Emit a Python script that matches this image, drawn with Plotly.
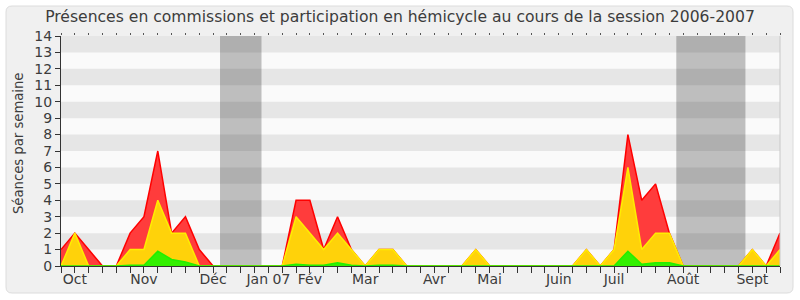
import plotly.graph_objects as go

weeks = list(range(53))
hemicycle = [1, 2, 1, 0, 0, 2, 3, 7, 2, 3, 1, 0, 0, 0, 0, 0, 0, 4, 4, 1, 3, 1, 0, 1, 1, 0,
             0, 0, 0, 0, 1, 0, 0, 0, 0, 0, 0, 0, 1, 0, 1, 8, 4, 5, 2, 0, 0, 0, 0, 0, 1, 0, 2]
commission = [0, 2, 0, 0, 0, 1, 1, 4, 2, 2, 0, 0, 0, 0, 0, 0, 0, 3, 2, 1, 2, 1, 0, 1, 1, 0,
              0, 0, 0, 0, 1, 0, 0, 0, 0, 0, 0, 0, 1, 0, 1, 6, 1, 2, 2, 0, 0, 0, 0, 0, 1, 0, 1]
interventions = [0, 0, 0, 0, 0, 0.05, 0.05, 0.9, 0.4, 0.25, 0, 0, 0, 0, 0, 0, 0, 0.1, 0.05, 0.05,
                 0.2, 0.05, 0, 0.05, 0.05, 0, 0, 0, 0, 0, 0, 0, 0, 0, 0, 0, 0, 0, 0, 0, 0, 0.9,
                 0.1, 0.2, 0.2, 0, 0, 0, 0, 0, 0, 0, 0]
month_pos = [1, 6, 11, 15, 18, 22, 27, 31, 36, 40, 45, 50]
month_lbl = ["Oct", "Nov", "Déc", "Jan 07", "Fév", "Mar", "Avr", "Mai", "Juin", "Juil", "Août", "Sept"]
vacations = [(11.5, 14.5), (44.5, 49.5)]
y_max = 14

W, H = 800, 300
L, R, T, B = 61, 20, 36, 34
FONT = "DejaVu Sans"
TXT = "#3c3c3c"

fig = go.Figure()
fig.add_trace(go.Scatter(x=weeks, y=hemicycle, mode="lines", fill="tozeroy",
                         line=dict(color="#ff0000", width=1.5), fillcolor="#ff3c3c",
                         hoverinfo="skip", showlegend=False))
fig.add_trace(go.Scatter(x=weeks, y=commission, mode="lines", fill="tozeroy",
                         line=dict(color="#ffee00", width=1.5), fillcolor="#ffd20a",
                         hoverinfo="skip", showlegend=False))
fig.add_trace(go.Scatter(x=weeks, y=interventions, mode="lines", fill="tozeroy",
                         line=dict(color="#22ee00", width=1.5), fillcolor="#33f000",
                         hoverinfo="skip", showlegend=False))
# invisible traces to render the weekly tick axes (top dots, bottom ticks)
fig.add_trace(go.Scatter(x=[weeks[0], weeks[-1]], y=[0, 0], xaxis="x2", mode="lines",
                         line=dict(width=0), hoverinfo="skip", showlegend=False))
fig.add_trace(go.Scatter(x=[weeks[0], weeks[-1]], y=[0, 0], xaxis="x3", mode="lines",
                         line=dict(width=0), hoverinfo="skip", showlegend=False))

shapes = []
def px(xp):
    return (xp - L) / (W - L - R)
def py(yp):
    return (H - B - yp) / (H - T - B)
x0, x1, y0, y1, r = 6, 793, 6, 293, 6
path = (f"M {px(x0+r)},{py(y0)} L {px(x1-r)},{py(y0)} Q {px(x1)},{py(y0)} {px(x1)},{py(y0+r)} "
        f"L {px(x1)},{py(y1-r)} Q {px(x1)},{py(y1)} {px(x1-r)},{py(y1)} "
        f"L {px(x0+r)},{py(y1)} Q {px(x0)},{py(y1)} {px(x0)},{py(y1-r)} "
        f"L {px(x0)},{py(y0+r)} Q {px(x0)},{py(y0)} {px(x0+r)},{py(y0)} Z")
shapes.append(dict(type="path", path=path, xref="paper", yref="paper",
                   fillcolor="#f0f0f0", line=dict(color="#dcdcdc", width=1), layer="below"))
shapes.append(dict(type="rect", xref="paper", yref="paper", x0=0, x1=1, y0=0, y1=1,
                   fillcolor="#fafafa", line=dict(width=0), layer="below"))
for k in range(1, y_max, 2):
    shapes.append(dict(type="rect", xref="paper", yref="y", x0=0, x1=1, y0=k, y1=k + 1,
                       fillcolor="#e6e6e6", line=dict(width=0), layer="below"))
for a, b in vacations:
    shapes.append(dict(type="rect", xref="x", yref="paper", x0=a, x1=b, y0=0, y1=1,
                       fillcolor="rgba(0,0,0,0.24)", line=dict(width=0), layer="below"))
shapes.append(dict(type="line", xref="paper", yref="paper", x0=1, x1=1, y0=0, y1=1,
                   line=dict(color="#c8c8c8", width=1), layer="above"))

fig.update_layout(
    width=W, height=H,
    margin=dict(l=L, r=R, t=T, b=B),
    paper_bgcolor="#ffffff",
    plot_bgcolor="rgba(0,0,0,0)",
    shapes=shapes,
    title=dict(text="Présences en commissions et participation en hémicycle au cours de la session 2006-2007",
               x=0.5, xanchor="center", y=1 - 17 / H, yanchor="middle", yref="container",
               font=dict(family=FONT, size=15.6, color=TXT)),
    xaxis=dict(range=[weeks[0], weeks[-1]], tickmode="array", tickvals=month_pos, ticktext=month_lbl,
               showgrid=False, zeroline=False, showline=True, linecolor="#333333", linewidth=1,
               ticks="", tickfont=dict(family=FONT, size=14, color=TXT), fixedrange=True),
    xaxis2=dict(range=[weeks[0], weeks[-1]], overlaying="x", side="top", anchor="y",
                showgrid=False, zeroline=False, showline=False, showticklabels=False,
                ticks="outside", ticklen=2, tickwidth=1, tickcolor="#555555",
                tickmode="linear", tick0=0, dtick=1),
    xaxis3=dict(range=[weeks[0], weeks[-1]], overlaying="x", side="bottom", anchor="y",
                showgrid=False, zeroline=False, showline=False, showticklabels=False,
                ticks="outside", ticklen=6, tickwidth=1, tickcolor="#333333",
                tickmode="linear", tick0=0, dtick=1),
    yaxis=dict(range=[0, y_max], tickmode="linear", tick0=0, dtick=1,
               showgrid=False, zeroline=False, showline=True, linecolor="#333333", linewidth=1,
               ticks="outside", ticklen=5, tickcolor="#333333",
               tickfont=dict(family=FONT, size=14, color=TXT), fixedrange=True),
    annotations=[dict(text="Séances par semaine", textangle=-90, showarrow=False,
                      xref="paper", yref="paper", x=px(18), y=py(144),
                      xanchor="center", yanchor="middle",
                      font=dict(family=FONT, size=13.2, color=TXT))],
)

fig.write_html("out.html")
